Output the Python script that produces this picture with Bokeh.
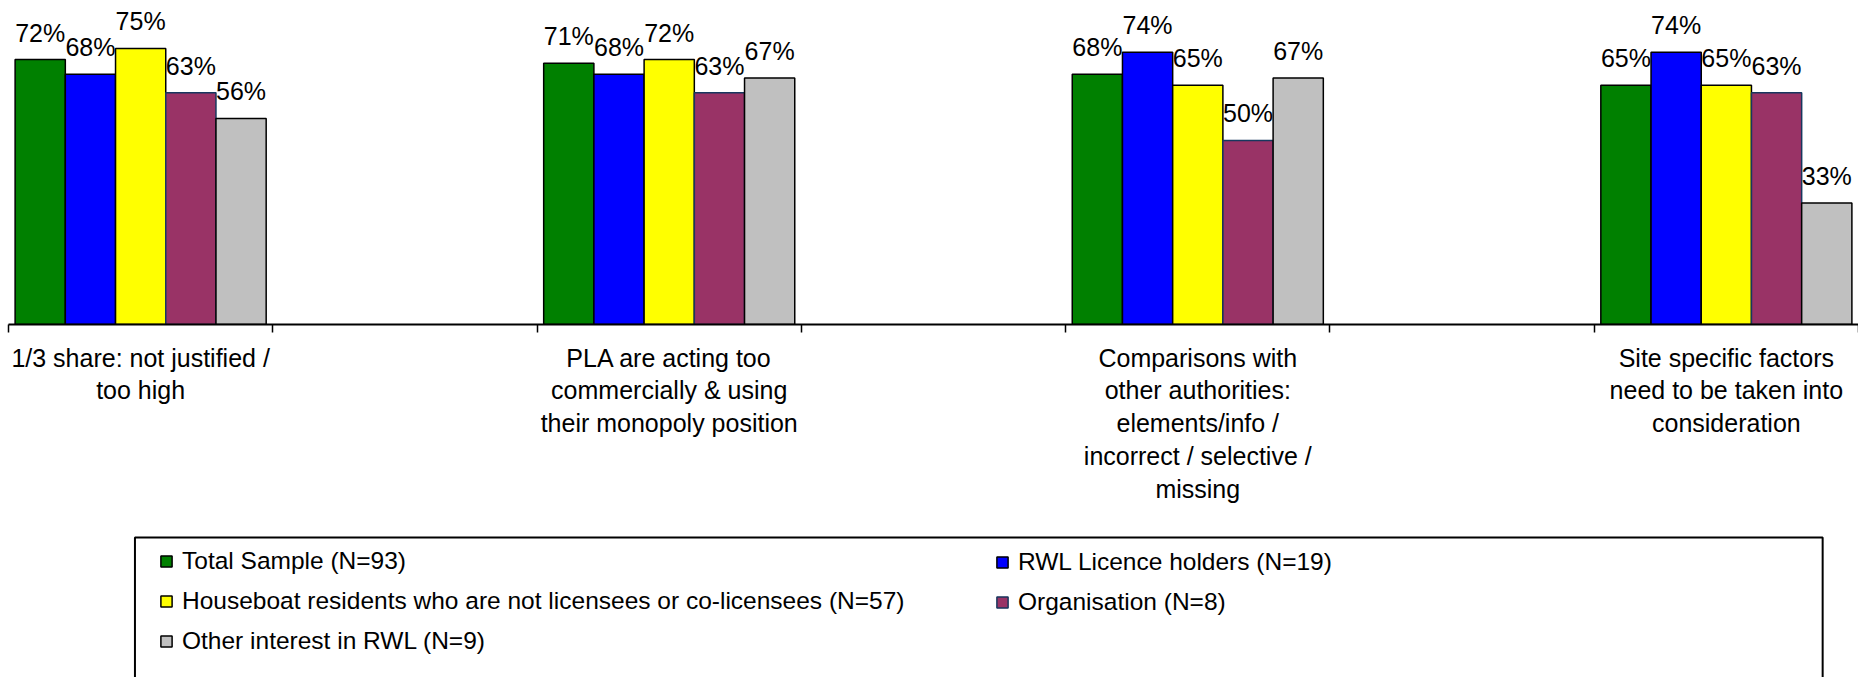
from bokeh.plotting import figure
from bokeh.layouts import column
from bokeh.models import ColumnDataSource, FixedTicker, Legend, LegendItem, BoxAnnotation, Range1d
from bokeh.core.properties import value
from bokeh.embed import file_html
from bokeh.resources import INLINE

# ---- data ----
categories = [
    "1/3 share: not justified /\ntoo high",
    "PLA are acting too\ncommercially & using\ntheir monopoly position",
    "Comparisons with\nother authorities:\nelements/info /\nincorrect / selective /\nmissing",
    "Site specific factors\nneed to be taken into\nconsideration",
]
series_names = [
    "Total Sample (N=93)",
    "RWL Licence holders (N=19)",
    "Houseboat residents who are not licensees or co-licensees (N=57)",
    "Organisation (N=8)",
    "Other interest in RWL (N=9)",
]
total_sample = [72, 71, 68, 65]
rwl_licence_holders = [68, 68, 74, 74]
houseboat_residents = [75, 72, 65, 65]
organisation = [63, 63, 50, 63]
other_interest = [56, 67, 67, 33]

series_values = [total_sample, rwl_licence_holders, houseboat_residents, organisation, other_interest]
fill_colors = ["#008000", "#0000FF", "#FFFF00", "#993366", "#C0C0C0"]
line_colors = ["#000000", "#000000", "#000000", "#17375E", "#000000"]

FONT = "Liberation Sans"
BAR_W = 0.19
SLOT_STEP = 2  # each category is followed by an empty slot
W = 1858
H1 = 520
H2 = 157

# ---------------- chart ----------------
p = figure(width=W, height=H1,
           x_range=Range1d(-0.5, 6.5), y_range=Range1d(0, 88.04),
           y_axis_location=None, toolbar_location=None, output_backend="svg",
           min_border_left=8, min_border_right=0, min_border_top=0, min_border_bottom=196)
p.xgrid.visible = False
p.ygrid.visible = False
p.outline_line_color = None
p.background_fill_color = "white"
p.border_fill_color = "white"

for j, (vals, fc, lc) in enumerate(zip(series_values, fill_colors, line_colors)):
    xs = [SLOT_STEP * i + (j - 2) * BAR_W for i in range(len(categories))]
    src = ColumnDataSource(dict(x=xs, top=vals, label=[f"{v}%" for v in vals]))
    p.vbar(x="x", top="top", bottom=0, width=BAR_W, source=src,
           fill_color=fc, line_color=lc, line_width=1.5)
    p.text(x="x", y="top", text="label", source=src, y_offset=-27,
           text_align="center", text_baseline="alphabetic",
           text_font=value(FONT), text_font_size=value("25px"), text_color="black")

xa = p.xaxis[0]
xa.ticker = FixedTicker(ticks=[SLOT_STEP * i for i in range(len(categories))],
                        minor_ticks=[-0.5 + k for k in range(8)])
xa.major_label_overrides = {SLOT_STEP * i: c for i, c in enumerate(categories)}
xa.major_tick_line_color = None
xa.major_tick_out = 8
xa.major_tick_in = 0
xa.minor_tick_line_color = "black"
xa.minor_tick_line_width = 1.5
xa.minor_tick_out = 8
xa.minor_tick_in = 0
xa.axis_line_color = "black"
xa.axis_line_width = 2
xa.major_label_standoff = 11
xa.major_label_text_font = FONT
xa.major_label_text_font_size = "25px"
xa.major_label_text_color = "black"
xa.major_label_text_line_height = 1.17

# ---------------- legend panel ----------------
q = figure(width=W, height=H2, x_range=Range1d(0, W), y_range=Range1d(H2, 0),
           x_axis_location=None, y_axis_location=None,
           toolbar_location=None, output_backend="svg",
           min_border_left=0, min_border_right=0, min_border_top=0, min_border_bottom=0)
q.xgrid.visible = False
q.ygrid.visible = False
q.outline_line_color = None
q.background_fill_color = "white"
q.border_fill_color = "white"

# legend proxies: one undefined (NaN) point each, so only the legend swatch shows
nan = float("nan")
swatches = []
for fc, lc in zip(fill_colors, line_colors):
    r = q.vbar(x=[nan], top=[nan], width=1, fill_color=fc, line_color=lc, line_width=1.5)
    swatches.append(r)

items = [LegendItem(label=n, renderers=[r]) for n, r in zip(series_names, swatches)]
common = dict(border_line_color=None, background_fill_alpha=0, padding=0, margin=0,
              spacing=12, glyph_width=14, glyph_height=14, label_standoff=9,
              label_text_font=FONT, label_text_font_size="24.5px", label_height=27,
              label_text_color="black", orientation="vertical")
# legend locations are measured from the bottom of this panel
leg_a = Legend(items=[items[0], items[2], items[4]], location=(151, 22), **common)
leg_b = Legend(items=[items[1], items[3]], location=(987, 61), **common)
q.add_layout(leg_a)
q.add_layout(leg_b)

box = BoxAnnotation(left=127, right=1822, top=17, bottom=H2 + 20,
                    fill_alpha=0, line_color="black", line_alpha=1, line_width=2)
q.add_layout(box)

layout = column(p, q, spacing=0)
open("out.html", "w").write(file_html(layout, INLINE))
